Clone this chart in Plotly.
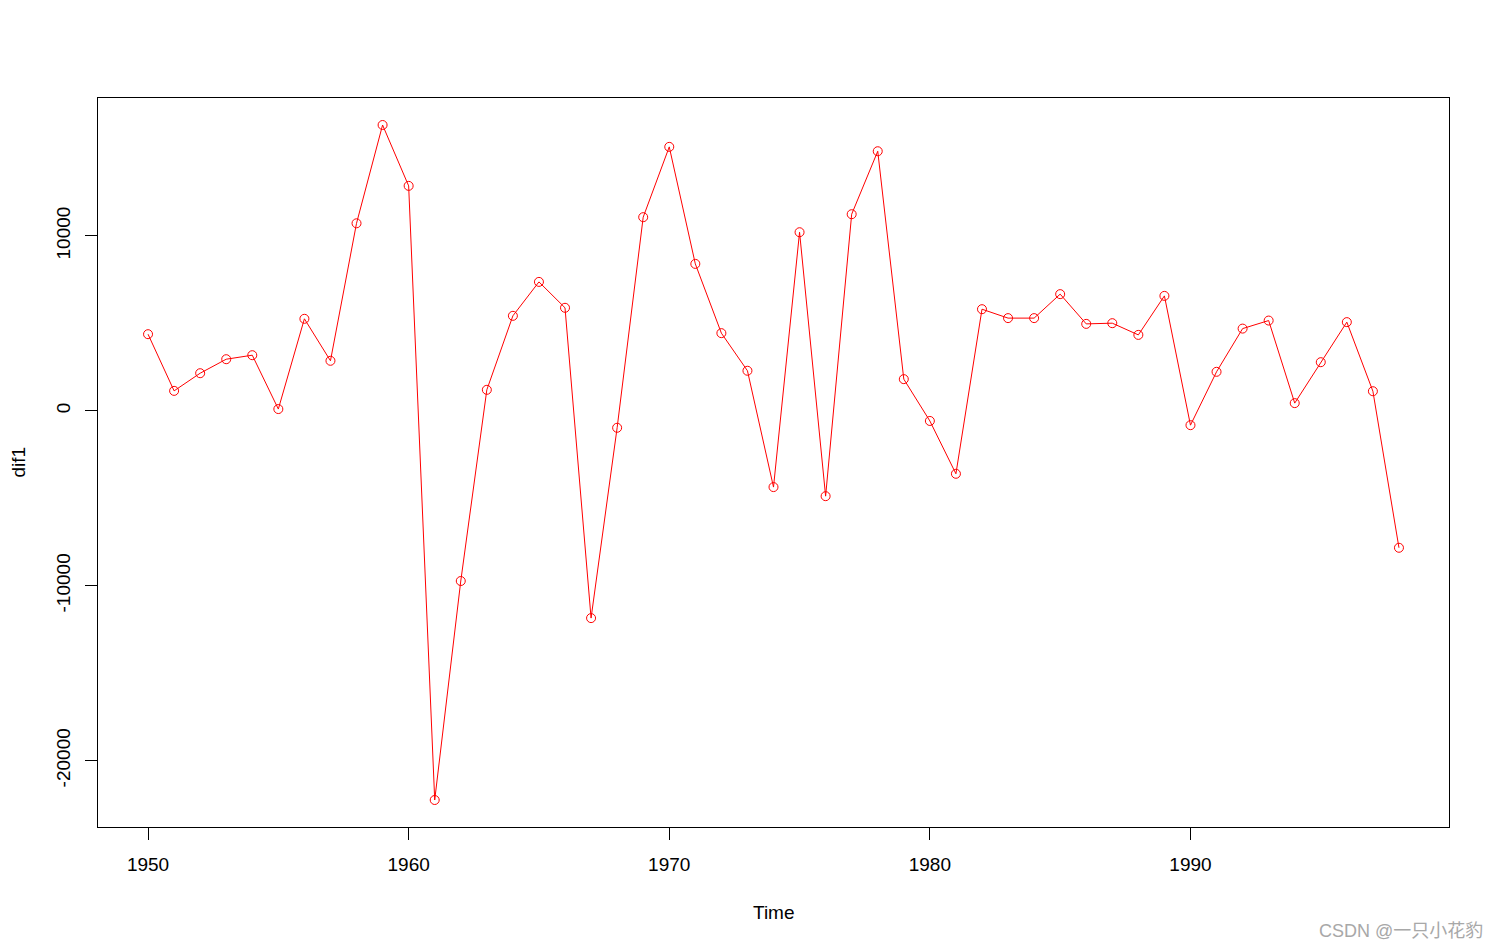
import plotly.graph_objects as go

years = list(range(1950, 1999))
dif1 = [4380, 1140, 2150, 2950, 3180, 100, 5260, 2860, 10720, 16340,
        12860, -22250, -9730, 1200, 5430, 7370, 5890, -11850, -970, 11070,
        15090, 8400, 4440, 2290, -4360, 10210, -4880, 11240, 14840, 1810,
        -580, -3600, 5810, 5300, 5300, 6670, 4970, 5010, 4340, 6570,
        -820, 2230, 4700, 5160, 440, 2780, 5070, 1120, -7830]

x_ticks = [1950, 1960, 1970, 1980, 1990]
y_ticks = [-20000, -10000, 0, 10000]
y_ticktext = ["-20000", "-10000", "0", "10000"]

FONT = "Liberation Sans, Arial, sans-serif"

fig = go.Figure()
fig.add_trace(go.Scatter(
    x=years, y=dif1, mode="lines+markers",
    line=dict(color="#ff0000", width=1),
    marker=dict(symbol="circle-open", size=9, color="#ff0000", line=dict(width=1, color="#ff0000")),
    showlegend=False,
))

rng_x = [min(years), max(years)]
dx = (rng_x[1] - rng_x[0]) * 0.04
rng_y = [min(dif1), max(dif1)]
dy = (rng_y[1] - rng_y[0]) * 0.04

fig.update_layout(
    width=1500, height=950,
    margin=dict(l=90, r=59, t=90, b=131),
    plot_bgcolor="white", paper_bgcolor="white",
    font=dict(family=FONT, size=19, color="black"),
    xaxis=dict(range=[rng_x[0] - dx, rng_x[1] + dx], tickvals=x_ticks,
               showgrid=False, zeroline=False, showline=True, linecolor="black",
               linewidth=1, mirror=True, ticks="outside", ticklen=12,
               tickcolor="black", ticklabelstandoff=8),
    yaxis=dict(range=[rng_y[0] - dy, rng_y[1] + dy], tickvals=y_ticks,
               ticktext=y_ticktext,
               showgrid=False, zeroline=False, showline=True, linecolor="black",
               linewidth=1, mirror=True, ticks="outside", ticklen=12,
               tickcolor="black", tickangle=-90, ticklabelstandoff=7),
    annotations=[
        dict(text="Time", xref="paper", yref="paper", x=0.5, y=0,
             xanchor="center", yanchor="middle", yshift=-85, showarrow=False,
             font=dict(size=19, family=FONT)),
        dict(text="dif1", xref="paper", yref="paper", x=0, y=0.5,
             xanchor="center", yanchor="middle", xshift=-80, textangle=-90,
             showarrow=False, font=dict(size=19, family=FONT)),
        dict(text="CSDN @一只小花豹", xref="paper", yref="paper", x=1, y=0,
             xanchor="right", yanchor="middle", xshift=36, yshift=-104,
             showarrow=False,
             font=dict(size=18, color="#a8a8a8", family="Liberation Sans, Noto Sans CJK SC")),
    ],
)

fig.write_html("out.html")
